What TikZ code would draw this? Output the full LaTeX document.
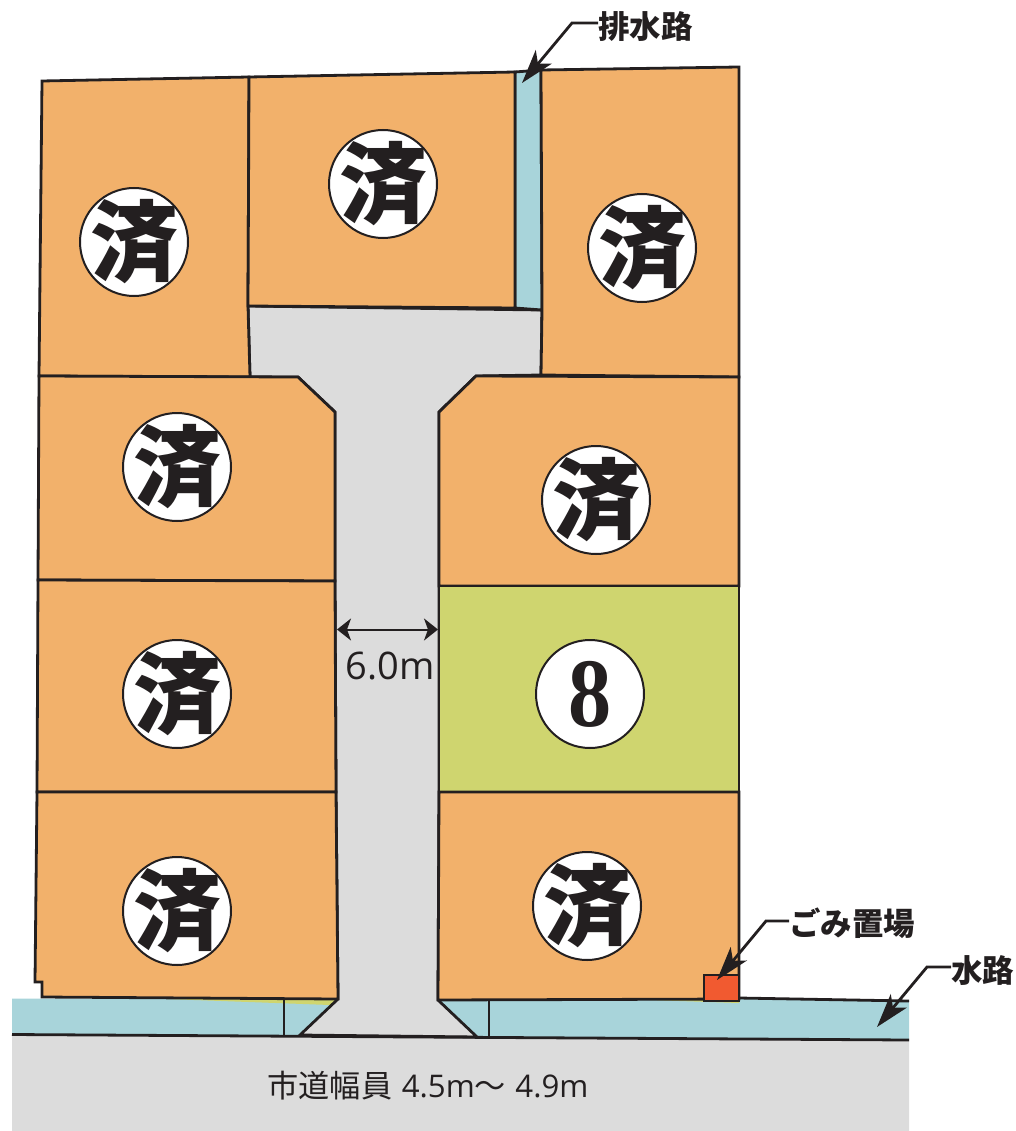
\documentclass[tikz,border=0pt]{standalone}
\usepackage{fontspec}
\newfontfamily\cjkfont{Noto Sans CJK JP}
\newfontfamily\latfont{Open Sans}
\newfontfamily\numfont{Liberation Serif}
\usetikzlibrary{arrows.meta}
\definecolor{lotorange}{HTML}{F2B16B}
\definecolor{waterblue}{HTML}{A8D4DA}
\definecolor{roadgrey}{HTML}{DCDCDC}
\definecolor{lotgreen}{HTML}{CFD56F}
\definecolor{inkline}{HTML}{231F20}
\definecolor{binred}{HTML}{F15A30}
\tikzset{
  plot/.style={draw=inkline,line width=2.8pt,line join=miter},
  lot/.style={plot,fill=lotorange},
  soldcircle/.style={circle,draw=inkline,line width=2pt,fill=white,minimum size=108pt,inner sep=-20pt,text=inkline},
  leader/.style={draw=inkline,line width=2.8pt,-{Stealth[length=34pt,width=21pt,inset=9pt]}},
  calllabel/.style={inner sep=0pt,text=inkline,font=\cjkfont\bfseries\fontsize{31.5}{31.5}\selectfont},
}
\newcommand{\sold}{\fontsize{88}{88}\selectfont\cjkfont\bfseries 済}
\begin{document}
\begin{tikzpicture}[x=1pt,y=-1pt]
\useasboundingbox (0,0) rectangle (1015,1131);
% water strips and city road
\fill[roadgrey] (12,1034) -- (909,1040) -- (909,1131) -- (12,1131) -- cycle;
\fill[waterblue] (12,998.5) -- (338,999) -- (300,1035) -- (12,1034.5) -- cycle;
\fill[waterblue] (438,1000) -- (739,999) -- (909,1001) -- (909,1040) -- (477,1037) -- cycle;
\fill[lotgreen] (140,998) -- (338,999) -- (338,1005) -- (330,1005) -- cycle;
\fill[lotgreen] (650,1000) -- (739,999) -- (739,1003) -- cycle;
% road
\path[plot,fill=roadgrey] (248,306) -- (542,310) -- (541,375) -- (476,376) -- (439,412) -- (439,586) -- (439,792) -- (438,1000) -- (477,1037) -- (300,1035) -- (338,999) -- (336,792) -- (335,581) -- (335,412) -- (298,377) -- (250,377) -- cycle;
% drain
\path[plot,fill=waterblue] (515,72) -- (541,70) -- (542,310) -- (515,308) -- cycle;
% lots
\path[lot] (42,81) -- (249,77) -- (248,306) -- (250,377) -- (39,376) -- cycle;
\path[lot] (249,77) -- (515,72) -- (515,308) -- (248,306) -- cycle;
\path[lot] (541,70) -- (739,67) -- (739,377) -- (541,375) -- (542,310) -- cycle;
\path[lot] (39,376) -- (298,377) -- (335,412) -- (335,581) -- (38,580) -- cycle;
\path[lot] (38,580) -- (335,581) -- (336,792) -- (37,792) -- cycle;
\path[lot] (37,792) -- (336,792) -- (338,999) -- (42,997) -- (42,982) -- (35,982) -- cycle;
\path[lot] (476,376) -- (739,377) -- (739,586) -- (439,586) -- (439,412) -- cycle;
\path[plot,fill=lotgreen] (439,586) -- (739,586) -- (739,792) -- (439,792) -- cycle;
\path[lot] (439,792) -- (739,792) -- (739,999) -- (438,1000) -- cycle;
% waterway lines
\draw[plot] (12,1034.5) -- (909,1040);
\draw[plot] (739,998) -- (909,1001);
\draw[plot] (284,999) -- (284,1035);
\draw[plot] (489,1001) -- (489,1037);
% bin
\node[draw=inkline,line width=2.8pt,fill=binred,minimum width=35pt,minimum height=26pt,inner sep=0pt] (bin) at (721.5,988) {};
% sold circles
\node[soldcircle] (s1) at (134,242) {\sold};
\node[soldcircle] (s2) at (383,184) {\sold};
\node[soldcircle] (s3) at (642,248) {\sold};
\node[soldcircle] (s4) at (177,467) {\sold};
\node[soldcircle] (s5) at (596,500) {\sold};
\node[soldcircle] (s6) at (177,694) {\sold};
\node[soldcircle] (s7) at (177,911) {\sold};
\node[soldcircle] (s8) at (587,906) {\sold};
\node[soldcircle] (lot8) at (590,694) {\scalebox{.88}[1]{\fontsize{98}{98}\selectfont\numfont\bfseries 8}};
% road width
\coordinate (wl) at (337,629.5);
\coordinate (wr) at (438,629.5);
\draw[draw=inkline,line width=2pt,{Stealth[length=14pt,width=22pt,inset=4pt]}-{Stealth[length=14pt,width=22pt,inset=4pt]}] (wl) -- (wr);
\node[inner sep=0pt,text=inkline,font=\latfont\fontsize{38}{38}\selectfont] (wlabel) at (390,666) {6.0m};
\node[inner sep=0pt,text=inkline,font=\fontsize{31.2}{31.2}\selectfont] (citylabel) at (428,1086) {{\cjkfont 市道幅員} {\latfont 4.5m}{\cjkfont 〜} {\latfont 4.9m}};
% callouts
\node[calllabel,anchor=west] (drainlabel) at (598,27) {排水路};
\coordinate (drainelbow) at (572,23);
\coordinate (draintip) at (522,83);
\draw[leader] (drainlabel.west |- drainelbow) -- (drainelbow) -- (draintip);
\node[calllabel,anchor=west] (binlabel) at (789,923) {ごみ置場};
\coordinate (binelbow) at (766,921);
\coordinate (bintip) at (717,980);
\draw[leader] (binlabel.west |- binelbow) -- (binelbow) -- (bintip);
\node[calllabel,anchor=west] (waterlabel) at (951,971) {水路};
\coordinate (waterelbow) at (927,967);
\coordinate (watertip) at (877,1027);
\draw[leader] (waterlabel.west |- waterelbow) -- (waterelbow) -- (watertip);
\end{tikzpicture}
\end{document}
